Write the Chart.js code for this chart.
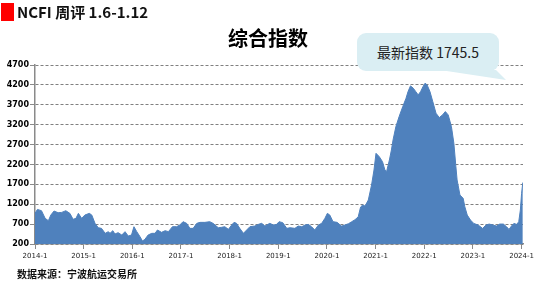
<!DOCTYPE html>
<html><head><meta charset="utf-8">
<script src="https://cdn.jsdelivr.net/npm/chart.js@4"></script>
<style>
html,body{margin:0;padding:0;background:#fff;}
#wrap{position:relative;width:555px;height:284px;overflow:hidden;background:#fff;}
canvas{position:absolute;left:0;top:0;}
.red{position:absolute;left:1px;top:3px;width:13px;height:18px;background:#f00;}
.hdr{position:absolute;left:17px;top:0;font:bold 15px "Noto Sans CJK SC";line-height:24px;color:#111;white-space:nowrap;}
.title{position:absolute;left:0;width:536px;top:24px;text-align:center;font:bold 20px "Noto Sans CJK SC";line-height:28px;color:#000;}
.src{position:absolute;left:17px;top:267px;font:bold 10px "Noto Sans CJK SC";line-height:14px;color:#111;white-space:nowrap;}
.call{position:absolute;left:357px;top:33px;width:142px;height:38px;border-radius:9px;background:#DAEEF3;text-align:center;font:14px "Noto Sans CJK SC";line-height:38px;color:#222;}
.tail{position:absolute;left:440px;top:70px;width:70px;height:12px;background:#DAEEF3;clip-path:polygon(0px 0px,56px 0px,66px 10px);}
</style></head>
<body>
<div id="wrap">
<canvas id="c" width="555" height="284"></canvas>
<div class="red"></div>
<div class="hdr">NCFI 周评 1.6-1.12</div>
<div class="title">综合指数</div>
<div class="tail"></div>
<div class="call">最新指数 1745.5</div>
<div class="src">数据来源：宁波航运交易所</div>
</div>
<script>
// months since 2014-1
const monthIdx = [0,0.6,1.6,2.5,3.3,3.9,4.7,5.7,6.6,7.6,8.6,9.4,10.1,10.7,11.5,12.3,13.4,14.0,14.8,15.6,16.4,17.3,18.1,18.5,19.2,19.7,20.5,21.4,22.2,23.0,23.8,24.4,25.1,25.9,26.5,27.1,27.9,28.8,29.6,30.2,31.2,32.1,32.9,33.9,34.9,35.7,36.5,37.4,38.2,39.0,39.9,40.7,41.9,43.1,43.9,45.2,46.0,46.8,47.7,48.5,49.1,49.7,50.5,51.4,52.2,53.0,54.2,55.1,55.9,56.7,57.9,58.8,59.6,60.2,61.1,62.1,62.9,64.1,64.9,65.8,66.6,67.4,68.2,69.0,69.9,70.7,71.5,72.1,72.7,73.5,74.5,75.6,76.4,77.3,78.1,78.9,79.7,80.3,80.8,81.4,82.2,83.0,83.6,84.1,84.9,85.7,86.3,86.7,87.4,87.9,88.3,89.0,89.8,90.7,91.5,92.0,92.6,93.3,93.9,94.5,95.1,95.7,96.2,96.7,97.4,98.1,98.9,99.7,100.5,101.2,101.9,102.7,103.3,103.8,104.1,104.8,105.6,106.0,106.6,107.4,108.2,109.3,110.4,111.2,112.0,113.0,113.8,114.6,115.5,116.3,116.9,117.5,118.1,118.8,119.3,119.7,120.0,120.3];
const ncfi = [970,1070,1037,845,786,928,1029,987,995,1037,970,820,845,970,845,928,970,928,719,610,593,468,510,468,535,451,485,426,510,400,426,635,510,384,275,317,426,468,468,552,493,535,510,635,635,677,761,719,593,593,719,744,744,761,719,610,619,635,568,677,744,719,593,468,552,635,652,694,719,652,719,677,694,761,736,593,610,593,652,635,677,694,635,552,677,719,845,970,928,761,744,650,677,710,760,810,880,1130,1180,1154,1305,1683,2060,2480,2396,2270,2060,2018,2312,2564,2816,3151,3403,3655,3864,4032,4175,4116,4032,3948,4032,4158,4242,4200,4032,3780,3487,3378,3445,3529,3445,3151,2732,2144,1809,1431,1347,1138,928,802,718,676,592,676,701,676,651,701,701,634,567,651,718,693,760,1054,1473,1745.5];
const yearLabels = ['2014-1','2015-1','2016-1','2017-1','2018-1','2019-1','2020-1','2021-1','2022-1','2023-1','2024-1'];
const yTicks = [200,700,1200,1700,2200,2700,3200,3700,4200,4700];

new Chart(document.getElementById('c'), {
  type: 'line',
  data: { datasets: [{
    data: monthIdx.map((m, i) => ({ x: m, y: ncfi[i] })),
    fill: 'start', backgroundColor: '#4F81BD', borderColor: '#4F81BD',
    borderWidth: 1, pointRadius: 0, tension: 0
  }]},
  options: {
    responsive: false, animation: false,
    layout: { padding: { left: 0, right: 32, top: 65, bottom: 0 } },
    plugins: { legend: { display: false }, tooltip: { enabled: false } },
    scales: {
      x: {
        type: 'linear', min: 0, max: 120.35,
        afterFit(s) { s.height = 40; },
        afterBuildTicks(s) { s.ticks = yearLabels.map((_, i) => ({ value: i * 12 })); },
        ticks: { callback: v => yearLabels[Math.round(v / 12)], font: { family: 'DejaVu Sans', size: 7 }, color: '#222', maxRotation: 0, autoSkip: false, padding: 3 },
        grid: { drawOnChartArea: false, drawTicks: true, tickLength: 5, color: '#8a8a8a', lineWidth: 1 },
        border: { display: true, color: '#8a8a8a', width: 1.5 }
      },
      y: {
        min: 200, max: 4700,
        afterFit(s) { s.width = 35; },
        afterBuildTicks(s) { s.ticks = yTicks.map(v => ({ value: v })); },
        ticks: { callback: v => String(v), font: { family: 'DejaVu Sans', size: 8, weight: 'bold' }, color: '#000', padding: 1 },
        grid: { color: '#808080', lineWidth: 1, tickLength: 5, tickBorderDash: [], tickColor: '#8a8a8a' },
        border: { display: true, color: '#8a8a8a', width: 1.5, dash: [3, 2] }
      }
    }
  }
});
</script>
</body></html>
